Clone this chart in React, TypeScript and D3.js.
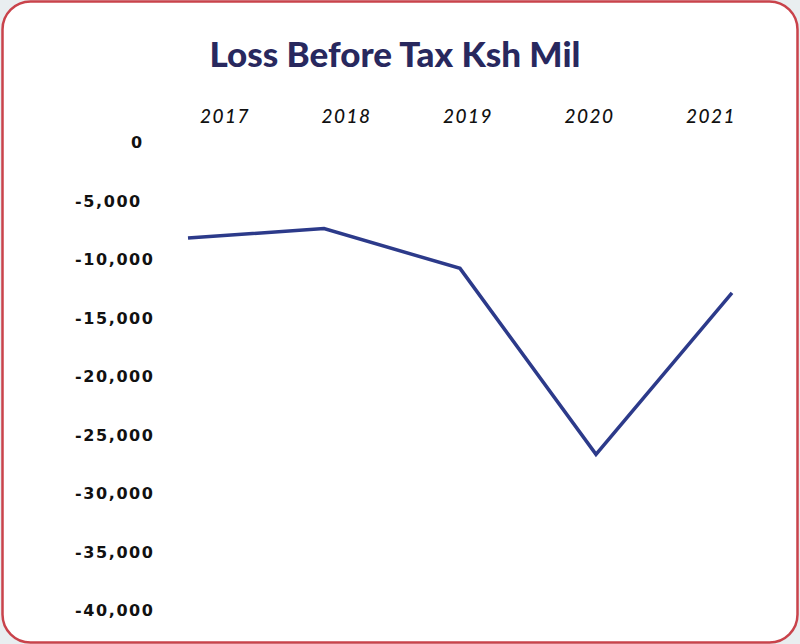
import React from 'react'
import * as d3 from 'd3'

const years = ['2017', '2018', '2019', '2020', '2021']
const lossBeforeTax = [-8200, -7400, -10800, -26700, -12900]
const yTicks = [0, -5000, -10000, -15000, -20000, -25000, -30000, -35000, -40000]

const W = 800
const H = 644

export default function App() {
  // the line and the year labels sit on slightly different spans in the original
  const xLine = d3.scalePoint<string>().domain(years).range([188, 732])
  const xLabel = d3.scalePoint<string>().domain(years).range([225, 711])
  const y = d3.scaleLinear().domain([0, -40000]).range([142, 610])

  const line = d3
    .line<number>()
    .x((_, i) => xLine(years[i]) as number)
    .y((d) => y(d))

  const fmt = d3.format(',')

  return (
    <svg
      width={W}
      height={H}
      style={{ position: 'absolute', left: 0, top: 0, background: '#e9eef0' }}
    >
      <rect x={2.5} y={1.5} width={W - 5} height={H - 3} rx={28} ry={28} fill="#fff" stroke="#c9434b" strokeWidth={2.5} />
      <text
        x={395}
        y={67}
        textAnchor="middle"
        fontFamily="Lato, 'Open Sans', sans-serif"
        fontWeight={900}
        fontSize={35}
        fill="#28285e"
      >
        Loss Before Tax Ksh Mil
      </text>
      {years.map((yr) => (
        <text
          key={yr}
          x={xLabel(yr)}
          y={123}
          textAnchor="middle"
          fontFamily="Lato, 'Open Sans', sans-serif"
          fontStyle="italic"
          fontWeight={500}
          fontSize={19}
          letterSpacing={1.5}
          fill="#111"
        >
          {yr}
        </text>
      ))}
      {yTicks.map((t) => (
        <text
          key={t}
          x={t === 0 ? 131 : 75}
          y={y(t) + 6}
          fontFamily="'DejaVu Sans', Verdana, sans-serif"
          fontWeight="bold"
          fontSize={16}
          letterSpacing={1.6}
          fill="#111"
        >
          {fmt(t).replace('−', '-')}
        </text>
      ))}
      <path d={line(lossBeforeTax) || ''} fill="none" stroke="#2c3a8a" strokeWidth={3.5} strokeLinejoin="miter" />
    </svg>
  )
}
